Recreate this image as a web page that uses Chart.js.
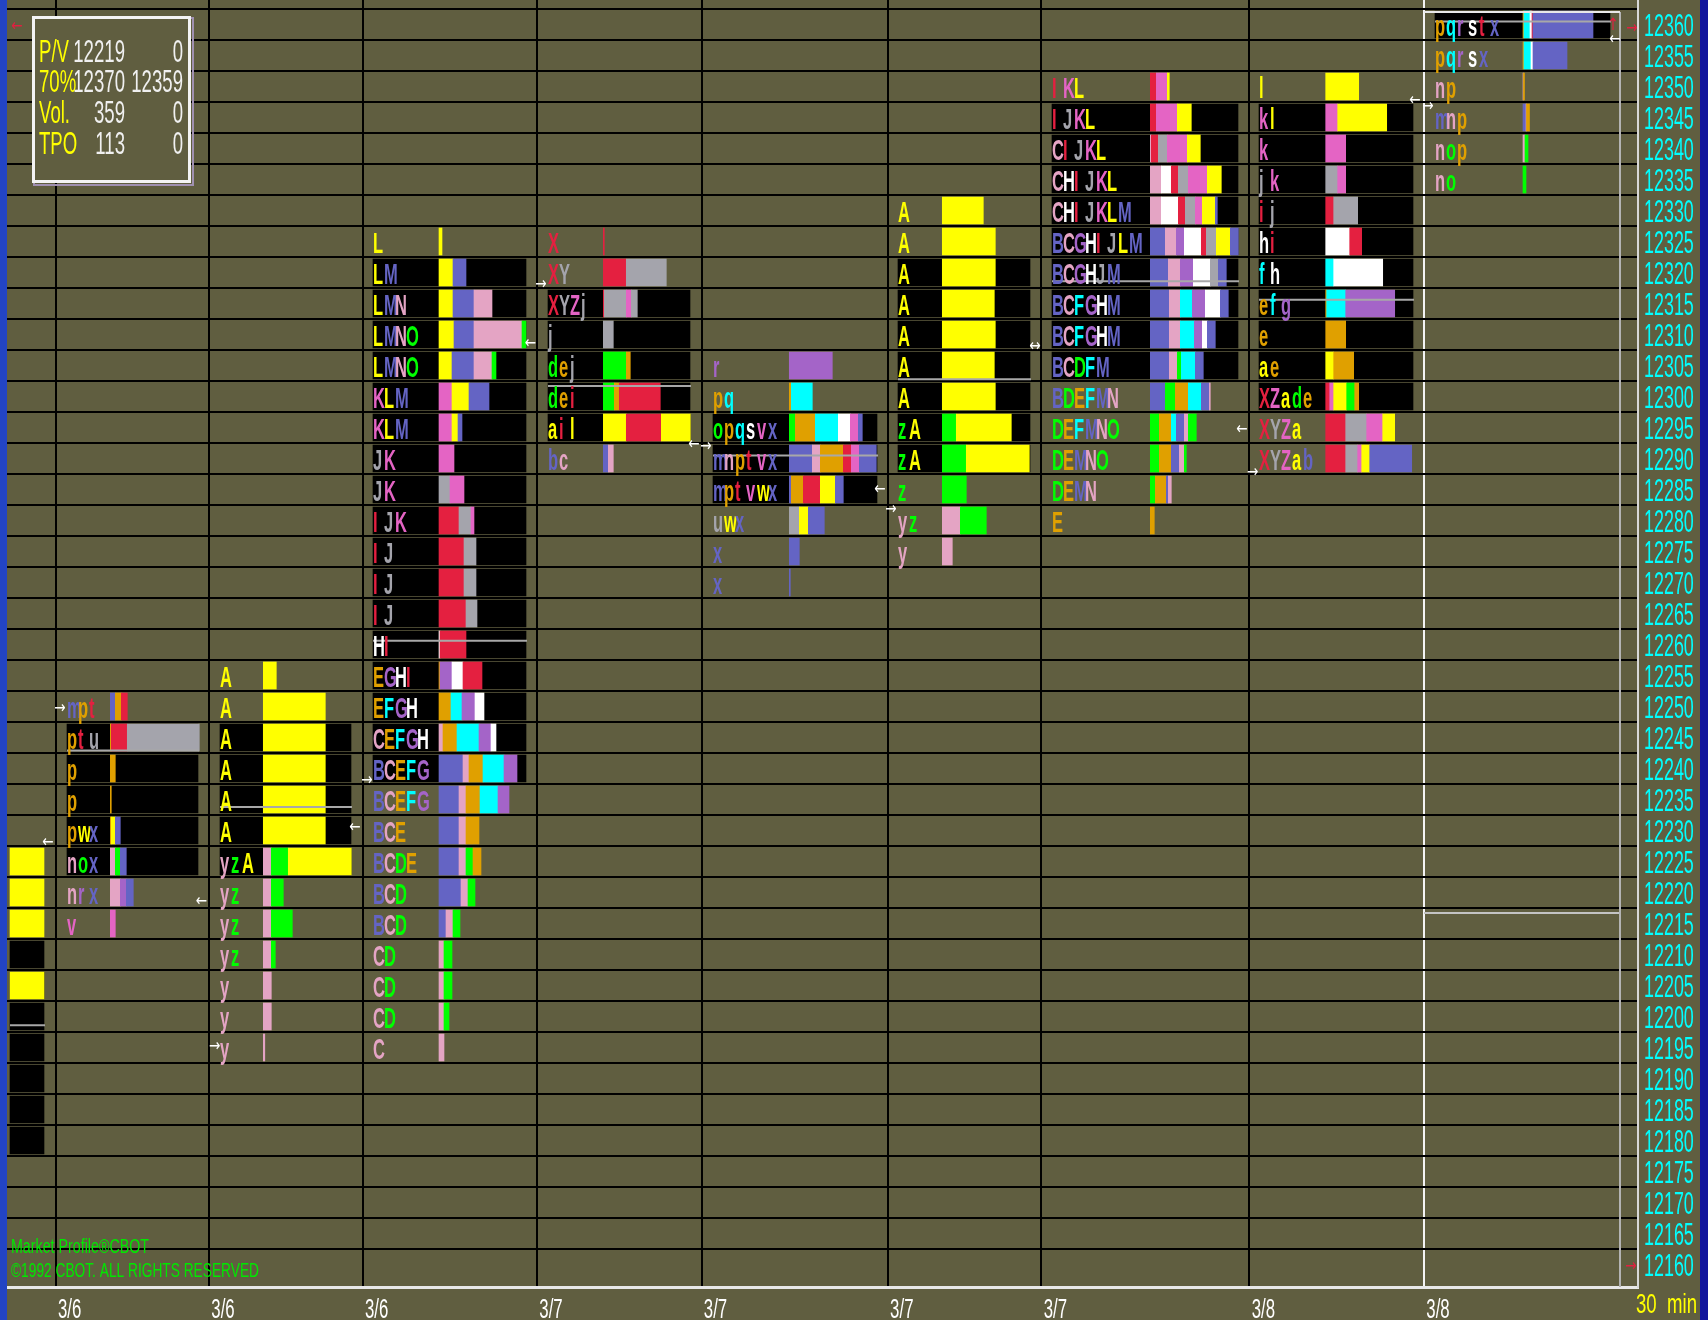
<!DOCTYPE html>
<html><head><meta charset="utf-8">
<script src="https://cdn.jsdelivr.net/npm/chart.js@4.4.1/dist/chart.umd.min.js"></script>
<style>
html,body{margin:0;padding:0;width:1708px;height:1320px;overflow:hidden;background:#2244c4}
#wrap{position:absolute;left:7px;top:0;width:1693px;height:1320px;background:#605e40}
#rb{position:absolute;left:1700px;top:0;width:8px;height:1320px;background:#12169c}
canvas{display:block}
</style></head><body>
<div id="wrap"><canvas id="c" width="1693" height="1320"></canvas></div><div id="rb"></div>
<script>
// ---------------- DATA ----------------
const priceTicks = [12360,12355,12350,12345,12340,12335,12330,12325,12320,12315,12310,12305,12300,12295,12290,12285,12280,12275,12270,12265,12260,12255,12250,12245,12240,12235,12230,12225,12220,12215,12210,12205,12200,12195,12190,12185,12180,12175,12170,12165,12160];
const dateLabels   = ['3/6','3/6','3/6','3/7','3/7','3/7','3/7','3/8','3/8'];
const sessionStart = [48.6, 202, 355.7, 530, 694.5, 880.8, 1034.4, 1242.4, 1417];

// per profile (0 = partial profile at the left edge)
const textAt  = [null, 60, 213, 366, 541, 706, 891, 1045, 1252, 1428];
const barAt   = [3, 103.3, 256.3, 432, 596.3, 782.3, 935.3, 1143.3, 1318.7, 1516];
const vaTop    = [12210, 12245, 12245, 12320, 12315, 12295, 12320, 12345, 12345, 12360];
const vaBottom = [12180, 12225, 12225, 12240, 12295, 12285, 12290, 12305, 12300, 12360];
const vaRight  = [37, 191, 344, 519, 683, 870, 1023, 1231, 1406, 1603];
const pocPrice = [12198.6, 12242.9, 12233.8, 12260.6, 12301.7, 12290.5, 12302.8, 12318.6, 12315.6, 12360.5];

// rows: [price, TPO letters, volume width per letter]
const prof0 = [[12225,'A',[34]],[12220,'A',[34]],[12215,'A',[34]],[12205,'A',[34]]];
const prof1 = [
 [12250,'mpt',[5,6,6]],[12245,'ptu',[1,16,72]],[12240,'p',[5]],[12235,'p',[1]],
 [12230,'pwx',[1,4,5]],[12225,'nox',[5,5,6]],[12220,'nrx',[10,6,7]],[12215,'v',[5]]];
const prof2 = [
 [12255,'A',[13]],[12250,'A',[62]],[12245,'A',[62]],[12240,'A',[62]],[12235,'A',[62]],[12230,'A',[62]],
 [12225,'yzA',[8,17,63]],[12220,'yz',[8,12]],[12215,'yz',[8,21]],[12210,'yz',[8,4]],
 [12205,'y',[8]],[12200,'y',[8]],[12195,'y',[1.5]]];
const prof3 = [
 [12325,'L',[3]],[12320,'LM',[14,13]],[12315,'LMN',[14,21,18]],[12310,'LMNO',[15,20,48,4]],
 [12305,'LMNO',[13,22,18,4]],[12300,'KLM',[13,17,20]],[12295,'KLM',[13,6,4]],[12290,'JK',[0,15]],
 [12285,'JK',[11,14]],[12280,'IJK',[20,12,3]],[12275,'IJ',[25,12]],[12270,'IJ',[25,12]],
 [12265,'IJ',[27,11]],[12260,'HI',[1,26]],[12255,'EGHI',[1,12,11,19]],[12250,'EFGH',[12,11,13,9]],
 [12245,'CEFGH',[4,14,22,12,5]],[12240,'BCEFG',[24,6,14,21,13]],[12235,'BCEFG',[20,7,14,18,11]],
 [12230,'BCE',[20,7,13]],[12225,'BCDE',[20,7,7,8]],[12220,'BCD',[22,7,7]],[12215,'BCD',[7,7,7]],
 [12210,'CD',[5,8]],[12205,'CD',[5,8]],[12200,'CD',[5,5]],[12195,'C',[5]]];
const prof4 = [
 [12325,'X',[1]],[12320,'XY',[23,40]],[12315,'XYZj',[1,22,5,6]],[12310,'j',[10]],
 [12305,'dej',[23,4,0]],[12300,'dei',[11,5,41]],[12295,'ail',[23,35,29]],[12290,'bc',[5,5]]];
const prof5 = [
 [12305,'r',[43]],[12300,'pq',[2,21]],[12295,'opqsvx',[6,20,23,12,8,4]],
 [12290,'mnptvx',[23,8,23,8,8,17]],[12285,'mptvwx',[2,12,17,0,15,8]],
 [12280,'uwx',[10,9,16]],[12275,'x',[10]],[12270,'x',[1]]];
const prof6 = [
 [12330,'A',[41]],[12325,'A',[53]],[12320,'A',[53]],[12315,'A',[52]],[12310,'A',[53]],
 [12305,'A',[52]],[12300,'A',[53]],[12295,'zA',[14,55]],[12290,'zA',[24,63]],
 [12285,'z',[24]],[12280,'yz',[18,26]],[12275,'y',[10]]];
const prof7 = [
 [12350,'IKL',[6,11,2]],[12345,'IJKL',[6,0,21,14]],[12340,'CIJKL',[1,7,9,20,13]],
 [12335,'CHIJKL',[11,10,7,10,19,14]],[12330,'CHIJKLM',[11,17,7,10,7,13,2]],
 [12325,'BCGHIJLM',[15,11,8,17,5,10,14,8]],[12320,'BCGHJM',[18,12,13,17,8,8]],
 [12315,'BCFGHM',[19,11,12,13,15,8]],[12310,'BCFGHM',[19,11,14,8,5,8]],
 [12305,'BCDFM',[19,8,4,14,8]],[12300,'BDEFMN',[15,10,13,13,8,1]],
 [12295,'DEFMNO',[9,12,5,8,4,8]],[12290,'DEMNO',[9,12,8,5,2]],
 [12285,'DEMN',[5,11,2,3]],[12280,'E',[4]]];
const prof8 = [
 [12350,'l',[33]],[12345,'kl',[12,49]],[12340,'k',[20]],[12335,'jk',[12,8]],
 [12330,'ij',[8,24]],[12325,'hi',[24,12]],[12320,'fh',[8,49]],[12315,'efg',[1,19,49]],
 [12310,'e',[20]],[12305,'ae',[8,20]],[12300,'XZade',[4,4,13,8,4]],
 [12295,'XYZa',[20,21,16,12]],[12290,'XYZab',[20,12,4,8,42]]];
const prof9 = [
 [12360,'pqrstx',[1,6,0,2,1,60]],[12355,'pqrsx',[1,7,0,2,34]],[12350,'np',[0.5,1]],
 [12345,'mnp',[3,0.5,3]],[12340,'nop',[2,3,0]],[12335,'no',[0,3]]];
const profiles = [prof0,prof1,prof2,prof3,prof4,prof5,prof6,prof7,prof8,prof9];

// current-session box (3/8 second column)
const boxLeft = 1417, boxRight = 1613, boxTop = 12362, boxMid = 12216.7;

// open / close markers: [x, price, glyph, colour]
const markers = [
 [10,12359.6,'←','#e02040'],[41,12228.1,'←','#fff'],[53,12249.7,'→','#fff'],
 [194.5,12218.6,'←','#fff'],[207.6,12195.2,'→','#fff'],[348,12230.4,'←','#fff'],
 [360,12238,'→','#fff'],[523.5,12308.6,'←','#fff'],[534,12318,'→','#fff'],
 [687,12292.3,'←','#fff'],[699,12291.9,'→','#fff'],[873,12285,'←','#fff'],
 [884,12281.7,'→','#fff'],[1028,12308,'↔','#fff'],[1235,12294.6,'←','#fff'],
 [1245.6,12287.8,'→','#fff'],[1408,12347.8,'←','#fff'],[1421,12346.7,'→','#fff'],
 [1608,12357.5,'←','#fff'],[1606,12359.9,'↑','#e02040'],[1625,12359.4,'→','#e02040'],
 [1624,12159.7,'→','#e02040']];

// stats box
const statNames = ['P/V','70%','Vol.','TPO'];
const statA = ['12219','12370','359','113'];
const statB = ['0','12359','0','0'];

// ---------------- STYLE ----------------
const PALETTE = ['#ffff00','#6464c4','#e4a4c4','#00ff00','#e0a000','#00ffff','#a464c8','#ffffff','#e42040','#a4a4ac','#e464c4'];
function letterColor(ch){
  if ('XYZ'.includes(ch)) return PALETTE[8 + 'XYZ'.indexOf(ch)];
  const c = ch.charCodeAt(0);
  return PALETTE[(c >= 97 ? c - 97 : c - 65) % 11];
}
const LETTER_STEP = 11;
const Y_MIN = 12156.37, Y_MAX = 12363.95;
const FONT = '"Liberation Sans", Arial, sans-serif';

// ---------------- BUILD ----------------
const segData = [], segColors = [];
profiles.forEach((rows, s) => {
  rows.forEach(([p, letters, widths]) => {
    let x0 = barAt[s];
    for (let i = 0; i < letters.length; i++) {
      const w = widths[i];
      if (w > 0) { segData.push({x:[x0, x0 + w], y:p}); segColors.push(letterColor(letters[i])); }
      x0 += w;
    }
  });
});
const vaData = [];
vaTop.forEach((top, s) => {
  const left = textAt[s] ?? barAt[s];
  for (let p = top; p >= vaBottom[s]; p -= 5) vaData.push({x:[left, vaRight[s]], y:p});
});
const pocData = [];
pocPrice.forEach((p, s) => {
  pocData.push({x:(textAt[s] ?? barAt[s]), y:p}, {x:vaRight[s] + 1, y:p}, {x:null, y:null});
});
const gridLevels = priceTicks.map(p => p + 2.5);

function condense(scale, sx){
  if (scale.$cond) return;
  scale.$cond = true;
  scale.drawLabels = function(area){
    const ctx = this.ctx;
    const items = this.getLabelItems(area);
    for (const it of items){
      const o = it.options;
      ctx.save();
      ctx.translate(o.translation[0], o.translation[1]);
      ctx.scale(sx, 1);
      ctx.font = it.font.string;
      ctx.fillStyle = o.color;
      ctx.textAlign = o.textAlign;
      ctx.textBaseline = o.textBaseline;
      ctx.fillText(it.label, 0, it.textOffset);
      ctx.restore();
    }
  };
}
function ctext(ctx, str, x, y, sx, align){
  ctx.save(); ctx.translate(x, y); ctx.scale(sx, 1);
  ctx.textAlign = align || 'left'; ctx.fillText(str, 0, 0); ctx.restore();
}
function fitText(ctx, str, x, y, w){
  const m = ctx.measureText(str).width;
  ctext(ctx, str, x, y, w / m, 'left');
}

const textPlugin = {
  id: 'profileText',
  afterDatasetsDraw(chart){
    const ctx = chart.ctx, xs = chart.scales.x, ys = chart.scales.y;
    ctx.save();
    ctx.font = 'bold 30px ' + FONT;
    ctx.textBaseline = 'alphabetic';
    profiles.forEach((rows, s) => {
      if (textAt[s] == null) return;
      rows.forEach(([p, letters]) => {
        const y = ys.getPixelForValue(p) + 12;
        for (let i = 0; i < letters.length; i++) {
          ctx.fillStyle = letterColor(letters[i]);
          ctext(ctx, letters[i], xs.getPixelForValue(textAt[s] + i * LETTER_STEP), y, 0.55);
        }
      });
    });
    ctx.font = '17px "DejaVu Sans", sans-serif';
    ctx.textBaseline = 'middle';
    markers.forEach(([x, p, g, c]) => {
      ctx.fillStyle = c;
      ctext(ctx, g, xs.getPixelForValue(x), ys.getPixelForValue(p), 0.8, 'center');
    });
    ctx.restore();
  },
  afterDraw(chart){
    const ctx = chart.ctx;
    ctx.save();
    // stats box
    ctx.fillStyle = '#605e40';
    ctx.fillRect(25, 16, 159, 167);
    ctx.strokeStyle = '#a090b0'; ctx.lineWidth = 2;
    ctx.strokeRect(27, 18, 159, 167);
    ctx.strokeStyle = '#f4f4f4'; ctx.lineWidth = 3;
    ctx.strokeRect(26.5, 17.5, 156, 164);
    ctx.font = '31px ' + FONT;
    ctx.textBaseline = 'middle';
    const rowsY = [53, 83, 114, 145];
    statNames.forEach((n, i) => {
      ctx.fillStyle = '#ffff00'; ctext(ctx, n, 32, rowsY[i], 0.6, 'left');
      ctx.fillStyle = '#f0f0f0'; ctext(ctx, statA[i], 118, rowsY[i], 0.6, 'right');
      ctext(ctx, statB[i], 176, rowsY[i], 0.6, 'right');
    });
    // copyright footer
    ctx.fillStyle = '#00e800';
    ctx.font = '20px ' + FONT;
    fitText(ctx, 'Market Profile®CBOT', 4, 1247, 138);
    fitText(ctx, '©1992 CBOT. ALL RIGHTS RESERVED', 4, 1271, 248);
    // interval
    ctx.fillStyle = '#ffff00';
    ctx.font = '28px ' + FONT;
    fitText(ctx, '30  min', 1629, 1305, 61);
    ctx.restore();
  }
};

new Chart(document.getElementById('c'), {
  type: 'bar',
  data: {
    datasets: [
      { type:'line', label:'poc', data: pocData, indexAxis:'x', xAxisID:'x', yAxisID:'y',
        borderColor:'#a8a8a8', borderWidth:2, pointRadius:0, fill:false, spanGaps:false, order:1 },
      { type:'line', label:'boxTop', data:[{x:boxLeft,y:boxTop},{x:boxRight,y:boxTop}], indexAxis:'x',
        xAxisID:'x', yAxisID:'y', borderColor:'#e8e8e8', borderWidth:2, pointRadius:0, fill:false, order:1 },
      { type:'line', label:'boxRight', data:[{x:boxRight,y:boxTop},{x:boxRight,y:Y_MIN}], indexAxis:'x',
        xAxisID:'x', yAxisID:'y', borderColor:'#b4b4b4', borderWidth:2, pointRadius:0, fill:false, order:1 },
      { type:'line', label:'boxMid', data:[{x:boxLeft,y:boxMid},{x:boxRight,y:boxMid}], indexAxis:'x',
        xAxisID:'x', yAxisID:'y', borderColor:'#c4c4c4', borderWidth:2, pointRadius:0, fill:false, order:1 },
      { label:'tpo', data: segData, backgroundColor: segColors, barThickness:27, grouped:false,
        xAxisID:'x', yAxisID:'y', order:2 },
      { label:'valueArea', data: vaData, backgroundColor:'#000000', barThickness:27, grouped:false,
        xAxisID:'x', yAxisID:'y', order:3 }
    ]
  },
  options: {
    responsive:false, animation:false, indexAxis:'y', events:[],
    layout:{padding:0},
    plugins:{legend:{display:false}, tooltip:{enabled:false}},
    scales:{
      x:{ type:'linear', position:'bottom', min:0, max:1631, offset:false,
          afterBuildTicks: sc => { sc.ticks = sessionStart.map(v => ({value:v})); },
          afterFit: sc => { sc.height = 33; sc.paddingLeft = 0; sc.paddingRight = 0; },
          afterUpdate: sc => condense(sc, 0.6),
          grid:{ color: c => c.index === 8 ? '#f4f4f4' : '#000000', lineWidth:2, drawTicks:false, offset:false },
          border:{ color:'#e8e8e8', width:3 },
          ticks:{ autoSkip:false, maxRotation:0, padding:6, labelOffset:14, color:'#ffffff',
                  font:{family:'Liberation Sans', size:28}, callback:(v, i) => dateLabels[i] } },
      y:{ type:'linear', position:'right', min:Y_MIN, max:Y_MAX, offset:false,
          afterBuildTicks: sc => { sc.ticks = priceTicks.map(v => ({value:v})); },
          afterFit: sc => { sc.width = 62; sc.paddingTop = 0; sc.paddingBottom = 0; },
          afterUpdate: sc => condense(sc, 0.56),
          grid:{display:false, offset:false, drawTicks:false},
          border:{color:'#d8d8d8', width:2},
          ticks:{ autoSkip:false, padding:6, labelOffset:3, color:'#00ffff',
                  font:{family:'Liberation Sans', size:32}, callback: v => String(v) } },
      yGrid:{ type:'linear', position:'left', min:Y_MIN, max:Y_MAX, offset:false,
          afterBuildTicks: sc => { sc.ticks = gridLevels.map(v => ({value:v})); },
          afterFit: sc => { sc.width = 0; sc.paddingTop = 0; sc.paddingBottom = 0; },
          grid:{color:'#000000', lineWidth:2, drawTicks:false, offset:false},
          border:{display:false}, ticks:{display:false} }
    }
  },
  plugins:[textPlugin]
});
</script></body></html>
